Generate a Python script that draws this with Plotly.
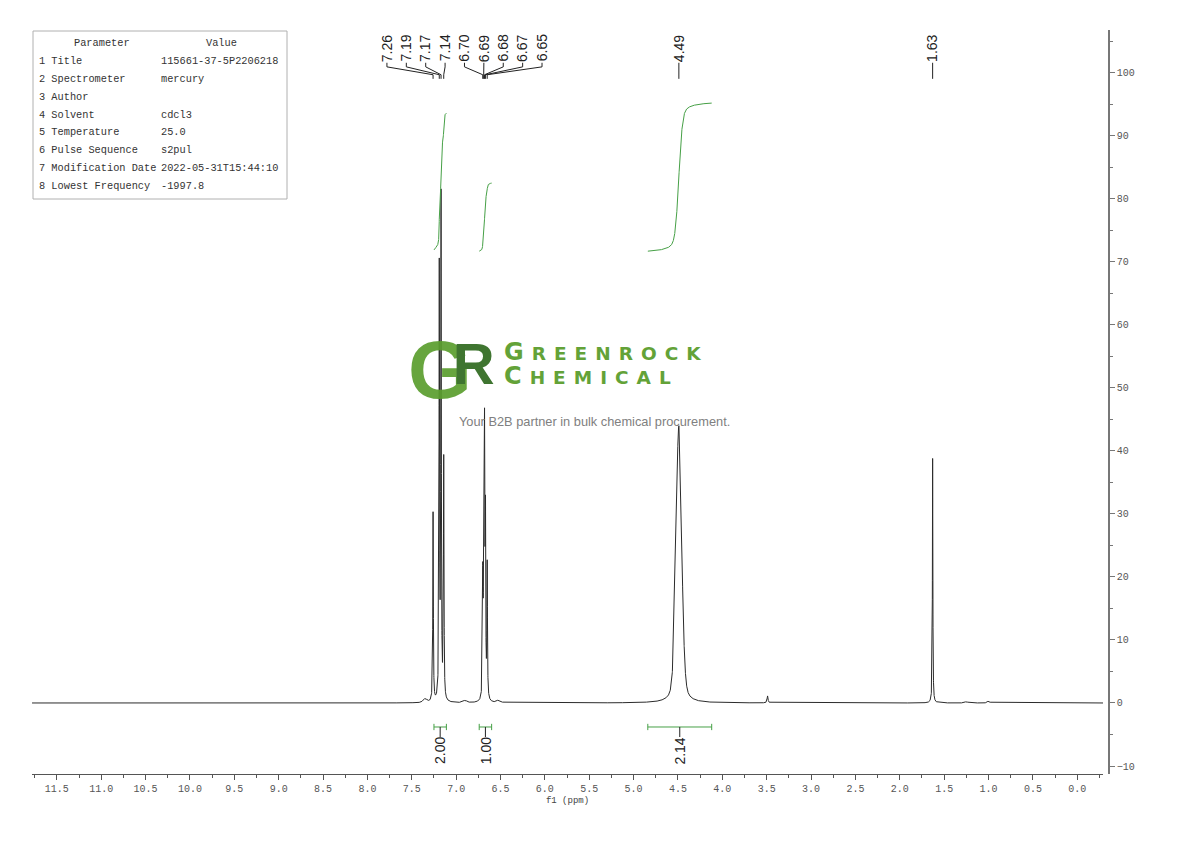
import numpy as np
import plotly.graph_objects as go

# ---------------- data ----------------
peak_ppm = [7.35, 7.26, 7.19, 7.17, 7.14, 6.90, 6.70, 6.69, 6.68, 6.67, 6.65, 6.52,
            4.49, 3.49, 1.63, 1.25, 1.00]
peak_height = [0.6, 30.0, 68.0, 79.0, 38.0, 0.35, 18.0, 25.0, 40.0, 30.0, 21.0, 0.4,
               44.0, 1.1, 38.8, 0.2, 0.3]
peak_fwhm = [0.05, 0.007, 0.007, 0.007, 0.007, 0.05, 0.007, 0.007, 0.007, 0.007, 0.007, 0.05,
             0.075, 0.012, 0.006, 0.04, 0.03]
peak_lorentz = [0.5, 1.0, 1.0, 1.0, 1.0, 0.5, 1.0, 1.0, 1.0, 1.0, 1.0, 0.5,
                0.3, 1.0, 1.0, 0.5, 0.5]

label_text = ["7.26", "7.19", "7.17", "7.14", "6.70", "6.69", "6.68", "6.67", "6.65", "4.49", "1.63"]
label_ppm = [7.26, 7.19, 7.17, 7.14, 6.70, 6.69, 6.68, 6.67, 6.65, 4.49, 1.63]

integral_start = [7.25, 6.74, 4.84]
integral_end = [7.11, 6.60, 4.12]
integral_base = [71.9, 71.7, 71.7]
integral_top = [93.6, 82.5, 95.2]
integral_label = ["2.00", "1.00", "2.14"]

param_names = ["1 Title", "2 Spectrometer", "3 Author", "4 Solvent", "5 Temperature",
               "6 Pulse Sequence", "7 Modification Date", "8 Lowest Frequency"]
param_values = ["115661-37-5P2206218", "mercury", "", "cdcl3", "25.0",
                "s2pul", "2022-05-31T15:44:10", "-1997.8"]

# ---------------- layout geometry (screen pixels, page has 8px body margin) ----------------
OFF = 8
W, H = 1190 - OFF, 841 - OFF
AX_LEFT, AX_RIGHT, AX_TOP, AX_BOTTOM = 32, 1109, 30, 774   # screen px
L_M = AX_LEFT - OFF
T_M = AX_TOP - OFF
R_M = W - (AX_RIGHT - OFF)
B_M = H - (AX_BOTTOM - OFF)
PW = W - L_M - R_M
PH = H - T_M - B_M
X_RANGE = [11.78, -0.29]
Y_RANGE = [-11.27, 106.8]


def px(xs):
    return (xs - AX_LEFT) / PW


def py(ys):
    return (AX_BOTTOM - ys) / PH


# ---------------- spectrum ----------------
x = np.arange(-0.29, 11.78, 0.0005)
spec = np.zeros_like(x)
for c, h, w, eta in zip(peak_ppm, peak_height, peak_fwhm, peak_lorentz):
    d = (x - c) / (w / 2.0)
    lor = 1.0 / (1.0 + d ** 2)
    gau = np.exp(-np.log(2) * d ** 2)
    spec += h * (eta * lor + (1 - eta) * gau)

fig = go.Figure()
fig.add_trace(go.Scatter(x=x, y=spec, mode="lines",
                         line=dict(color="#2b2b2b", width=1), hoverinfo="skip",
                         showlegend=False))

GREEN = "#46a046"

# integral curves and brackets
br_y = -3.81
cap = 0.5
for s, e, b, t, lab in zip(integral_start, integral_end, integral_base, integral_top, integral_label):
    m = (x <= s) & (x >= e)
    xs = x[m][::-1]
    ys = spec[m][::-1]
    cum = np.cumsum(ys)
    norm = (cum - cum[0]) / (cum[-1] - cum[0])
    fig.add_trace(go.Scatter(x=xs, y=b + (t - b) * norm, mode="lines",
                             line=dict(color=GREEN, width=1), hoverinfo="skip",
                             showlegend=False))
    mid = (s + e) / 2
    bx = [s, e, None, s, s, None, e, e]
    by = [br_y, br_y, None, br_y - cap, br_y + cap, None, br_y - cap, br_y + cap]
    fig.add_trace(go.Scatter(x=bx, y=by, mode="lines", line=dict(color=GREEN, width=1),
                             hoverinfo="skip", showlegend=False))
    fig.add_trace(go.Scatter(x=[mid, mid], y=[br_y, -5.4], mode="lines",
                             line=dict(color="#222", width=1), hoverinfo="skip", showlegend=False))
    fig.add_annotation(x=mid, y=-7.6, text=lab, showarrow=False, textangle=-90,
                       xanchor="center", yanchor="middle",
                       font=dict(family="Liberation Sans", size=14, color="#222"))

# peak labels with connectors
n_cluster = 9
lab_x = []
for i, p in enumerate(label_ppm):
    if i < n_cluster:
        lab_x.append(7.78 - i * 0.2185)
    else:
        lab_x.append(p)

cx, cy = [], []
for lx, p in zip(lab_x, label_ppm):
    cx += [lx, lx, p, p, None]
    cy += [101.6, 100.95, 99.7, 99.05, None]
fig.add_trace(go.Scatter(x=cx, y=cy, mode="lines", line=dict(color="#222", width=1),
                         hoverinfo="skip", showlegend=False))
for lx, t in zip(lab_x, label_text):
    fig.add_annotation(x=lx, y=103.9, text=t, showarrow=False, textangle=-90,
                       xanchor="center", yanchor="middle",
                       font=dict(family="Liberation Sans", size=14, color="#222"))

# ---------------- parameter table ----------------
shapes = [dict(type="rect", xref="paper", yref="paper", x0=px(33), x1=px(287), y0=py(199), y1=py(31),
               line=dict(color="#b0b0b0", width=1), fillcolor="rgba(255,255,255,0)")]
tfont = dict(family="Liberation Mono", size=10.3, color="#333")
fig.add_annotation(xref="paper", yref="paper", x=px(102), y=py(43), text="Parameter",
                   showarrow=False, xanchor="center", yanchor="middle", font=tfont)
fig.add_annotation(xref="paper", yref="paper", x=px(221), y=py(43), text="Value",
                   showarrow=False, xanchor="center", yanchor="middle", font=tfont)
for i, (n, v) in enumerate(zip(param_names, param_values)):
    yy = 61 + i * 17.86
    fig.add_annotation(xref="paper", yref="paper", x=px(37), y=py(yy), text=n,
                       showarrow=False, xanchor="left", yanchor="middle", font=tfont)
    if v:
        fig.add_annotation(xref="paper", yref="paper", x=px(159), y=py(yy), text=v,
                           showarrow=False, xanchor="left", yanchor="middle", font=tfont)

# ---------------- watermark logo ----------------
fig.add_annotation(xref="paper", yref="paper", x=px(497), y=py(369),
                   text=("<b><span style='color:#5b9e2e;font-size:82px;letter-spacing:-19px'>G</span>"
                         "<span style='color:#2f6a1f;font-size:58px;baseline-shift:14px'>R</span></b>"),
                   showarrow=False, xanchor="right", yanchor="middle", opacity=0.92,
                   font=dict(family="Liberation Sans", size=58, color="#5b9e2e"))
fig.add_annotation(xref="paper", yref="paper", x=px(502), y=py(364),
                   text=("<b><span style='letter-spacing:8px'><span style='font-size:24px'>G</span>REENROCK</span><br>"
                         "<span style='letter-spacing:8px'><span style='font-size:24px'>C</span>HEMICAL</span></b>"),
                   showarrow=False, xanchor="left", yanchor="middle", align="left", opacity=0.95,
                   font=dict(family="DejaVu Sans", size=18.5, color="#5b9e2e"))
fig.add_annotation(xref="paper", yref="paper", x=px(594), y=py(421),
                   text="Your B2B partner in bulk chemical procurement.",
                   showarrow=False, xanchor="center", yanchor="middle",
                   font=dict(family="Liberation Sans", size=12.8, color="#808080"))

tickfont = dict(family="Liberation Mono", size=10, color="#555")
fig.update_layout(
    width=W, height=H,
    margin=dict(l=L_M, r=R_M, t=T_M, b=B_M),
    paper_bgcolor="white", plot_bgcolor="white",
    shapes=shapes,
    showlegend=False,
    xaxis=dict(range=X_RANGE, domain=[0, (1103 - AX_LEFT) / PW], showgrid=False, zeroline=False,
               showline=True, linecolor="#555", linewidth=1,
               ticks="outside", ticklen=5, tickcolor="#555", dtick=0.5, tick0=0,
               tickformat=".1f", tickfont=tickfont,
               minor=dict(dtick=0.25, ticks="outside", ticklen=3, tickcolor="#555", showgrid=False),
               title=dict(text="f1 (ppm)", standoff=2,
                          font=dict(family="Liberation Mono", size=9, color="#444"))),
    yaxis=dict(range=Y_RANGE, side="right", anchor="free", position=1, showgrid=False,
               zeroline=False, showline=True, linecolor="#777", linewidth=1.5,
               ticks="outside", ticklen=5, tickcolor="#777", dtick=10, tick0=0,
               tickfont=tickfont,
               minor=dict(dtick=5, ticks="outside", ticklen=3, tickcolor="#777", showgrid=False)),
)

fig.write_html("out.html")
